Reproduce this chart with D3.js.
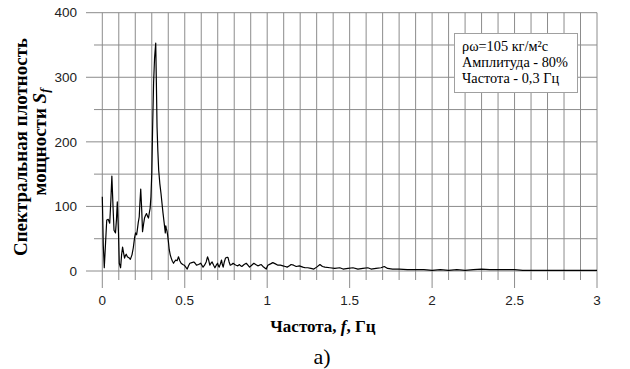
<!DOCTYPE html>
<html>
<head>
<meta charset="utf-8">
<script src="https://cdn.jsdelivr.net/npm/d3@7"></script>
<style>
  html, body { margin: 0; padding: 0; background: #fff; }
  svg { display: block; }
</style>
</head>
<body>
<div id="chart"></div>
<script>
// Spectrum: frequency (Hz) and power spectral density
const freq = [
  0.000, 0.006, 0.012, 0.020, 0.027, 0.036, 0.045, 0.052, 0.058, 0.065,
  0.071, 0.080, 0.086, 0.091, 0.098, 0.103, 0.111, 0.117, 0.123, 0.129,
  0.135, 0.140, 0.145, 0.152, 0.158, 0.164, 0.170, 0.180, 0.188, 0.196,
  0.202, 0.208, 0.212, 0.218, 0.224, 0.228, 0.233, 0.239, 0.244, 0.250,
  0.256, 0.262, 0.268, 0.274, 0.280, 0.285, 0.290, 0.295, 0.300, 0.305,
  0.311, 0.317, 0.324, 0.328, 0.332, 0.337, 0.342, 0.349, 0.356, 0.362,
  0.368, 0.375, 0.382, 0.385, 0.388, 0.392, 0.396, 0.401, 0.406, 0.412,
  0.418, 0.425, 0.432, 0.439, 0.446, 0.454, 0.462, 0.470, 0.478, 0.488,
  0.497, 0.506, 0.515, 0.523, 0.531, 0.543, 0.555, 0.563, 0.571, 0.584,
  0.597, 0.604, 0.611, 0.620, 0.630, 0.638, 0.645, 0.652, 0.659, 0.666,
  0.675, 0.683, 0.691, 0.699, 0.704, 0.709, 0.716, 0.723, 0.728, 0.733,
  0.740, 0.747, 0.755, 0.762, 0.769, 0.776, 0.785, 0.793, 0.803, 0.812,
  0.822, 0.832, 0.839, 0.846, 0.860, 0.873, 0.883, 0.893, 0.906, 0.919,
  0.930, 0.943, 0.953, 0.964, 0.974, 0.984, 0.994, 1.004, 1.020, 1.034,
  1.050, 1.065, 1.080, 1.095, 1.110, 1.121, 1.135, 1.145, 1.160, 1.176,
  1.195, 1.216, 1.230, 1.246, 1.265, 1.283, 1.300, 1.320, 1.335, 1.350,
  1.380, 1.410, 1.440, 1.460, 1.490, 1.520, 1.550, 1.580, 1.610, 1.630,
  1.660, 1.690, 1.710, 1.730, 1.760, 1.800, 1.850, 1.900, 1.950, 2.000,
  2.050, 2.100, 2.150, 2.200, 2.250, 2.300, 2.350, 2.400, 2.450, 2.500,
  2.550, 2.600, 2.700, 2.800, 2.900, 3.000
];
const density = [
  115, 40, 5, 45, 79, 80, 74, 110, 147, 100,
  63, 59, 80, 107, 60, 12, 5, 25, 37, 28,
  20, 24, 26, 22, 21, 20, 18, 25, 36, 52,
  59, 56, 63, 75, 84, 105, 127, 95, 61, 72,
  82, 86, 89, 85, 82, 90, 97, 115, 151, 220,
  291, 330, 353, 290, 223, 185, 156, 135, 120, 105,
  90, 75, 59, 70, 66, 62, 56, 45, 33, 25,
  20, 15, 12, 15, 17, 16, 22, 16, 12, 10,
  9, 6, 3, 8, 12, 13, 14, 12, 9, 10,
  12, 9, 6, 9, 14, 22, 17, 9, 12, 14,
  9, 5, 9, 12, 8, 6, 11, 17, 10, 6,
  14, 20, 21, 21, 14, 9, 10, 12, 10, 9,
  8, 10, 8, 7, 10, 12, 9, 6, 9, 12,
  10, 8, 9, 10, 7, 5, 3, 9, 11, 13,
  11, 9, 9, 8, 7, 6, 8, 10, 9, 7,
  8, 6, 5, 5, 4, 3, 6, 10, 7, 6,
  5, 4, 5, 3, 4, 5, 3, 4, 5, 3,
  4, 5, 7, 4, 3, 3, 2, 2, 2, 1,
  2, 1, 2, 1, 2, 3, 2, 2, 2, 2,
  1, 1, 1, 1, 1, 1
];

const xTicks = [0, 0.5, 1, 1.5, 2, 2.5, 3];
const yTicks = [0, 100, 200, 300, 400];
const xGrid = d3.range(0, 31).map(i => i / 10);
const yGrid = d3.range(0, 9).map(i => i * 50);

const legendLines = ["ρω=105 кг/м²с", "Амплитуда - 80%", "Частота - 0,3 Гц"];

const width = 630, height = 369;
const serif = "'Liberation Serif', 'Times New Roman', serif";
const sans = "'Liberation Sans', Arial, sans-serif";

const svg = d3.select("#chart")
  .append("svg")
  .attr("width", width)
  .attr("height", height);

const x = d3.scaleLinear().domain([0, 3]).range([102.3, 597]);
const y = d3.scaleLinear().domain([0, 400]).range([271, 12.7]);

// Grid (lines run past the axes to form tick marks)
const grid = svg.append("g")
  .attr("stroke", "#8c8c8c")
  .attr("stroke-width", 1);

grid.selectAll("line.v")
  .data(xGrid)
  .enter()
  .append("line")
  .attr("class", "v")
  .attr("x1", d => x(d))
  .attr("x2", d => x(d))
  .attr("y1", y(400))
  .attr("y2", (d, i) => i % 5 === 0 ? 288 : 280);

grid.selectAll("line.h")
  .data(yGrid)
  .enter()
  .append("line")
  .attr("class", "h")
  .attr("x1", (d, i) => i % 2 === 0 ? 86 : 94)
  .attr("x2", x(3))
  .attr("y1", d => y(d))
  .attr("y2", d => y(d));

// Spectrum
const points = freq.map((f, i) => [f, density[i]]);

svg.append("path")
  .datum(points)
  .attr("fill", "none")
  .attr("stroke", "#000")
  .attr("stroke-width", 1.2)
  .attr("stroke-linejoin", "round")
  .attr("d", d3.line()
    .x(d => x(d[0]))
    .y(d => y(d[1]))
  );

// Tick labels
svg.append("g")
  .attr("font-family", sans)
  .attr("font-size", 13.5)
  .attr("fill", "#222")
  .attr("text-anchor", "end")
  .selectAll("text")
  .data(yTicks)
  .enter()
  .append("text")
  .attr("x", 77)
  .attr("y", d => y(d))
  .attr("dy", "0.35em")
  .text(d => d);

svg.append("g")
  .attr("font-family", sans)
  .attr("font-size", 13.5)
  .attr("fill", "#222")
  .attr("text-anchor", "middle")
  .selectAll("text")
  .data(xTicks)
  .enter()
  .append("text")
  .attr("x", d => x(d))
  .attr("y", 305)
  .text(d => d);

// Legend box
const legend = svg.append("g");
legend.append("rect")
  .attr("x", 454.5)
  .attr("y", 33.5)
  .attr("width", 123)
  .attr("height", 59)
  .attr("fill", "#fff")
  .attr("stroke", "#a0a0a0");

legend.selectAll("text")
  .data(legendLines)
  .enter()
  .append("text")
  .attr("x", 462)
  .attr("y", (d, i) => 51 + i * 16)
  .attr("font-family", serif)
  .attr("font-size", 14.3)
  .attr("fill", "#000")
  .text(d => d);

// Axis titles
const xTitle = svg.append("text")
  .attr("x", 323)
  .attr("y", 332)
  .attr("text-anchor", "middle")
  .attr("font-family", serif)
  .attr("font-size", 17)
  .attr("font-weight", "bold");
xTitle.append("tspan").text("Частота, ");
xTitle.append("tspan").attr("font-style", "italic").text("f");
xTitle.append("tspan").text(", Гц");

svg.append("text")
  .attr("x", 322)
  .attr("y", 364)
  .attr("text-anchor", "middle")
  .attr("font-family", serif)
  .attr("font-size", 22)
  .text("а)");

const yTitle = svg.append("g")
  .attr("font-family", serif)
  .attr("font-size", 19)
  .attr("font-weight", "bold")
  .attr("text-anchor", "middle");

yTitle.append("text")
  .attr("transform", "translate(27,147) rotate(-90)")
  .attr("textLength", 218)
  .attr("lengthAdjust", "spacingAndGlyphs")
  .text("Спектральная плотность");

const yTitle2 = yTitle.append("text")
  .attr("transform", "translate(46,142) rotate(-90)");
yTitle2.append("tspan").text("мощности ");
yTitle2.append("tspan").attr("font-style", "italic").text("S");
yTitle2.append("tspan")
  .attr("font-style", "italic")
  .attr("font-size", 13)
  .attr("dy", 3)
  .text("f");
</script>
</body>
</html>
